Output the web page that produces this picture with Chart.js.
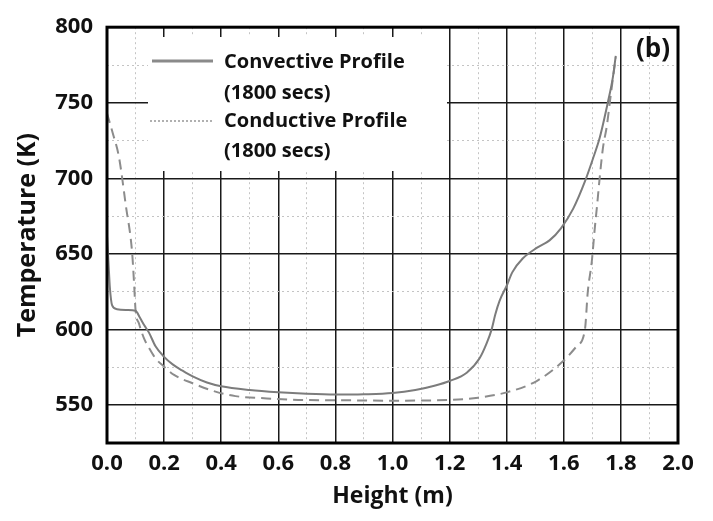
<!DOCTYPE html>
<html>
<head>
<meta charset="utf-8">
<script src="https://cdn.jsdelivr.net/npm/chart.js@4"></script>
<style>
  html, body { margin: 0; padding: 0; background: #fff; }
  #wrap { width: 713px; height: 521px; }
</style>
</head>
<body>
<div id="wrap"><canvas id="profile"></canvas></div>
<script>
// DATA
const convHeight = [0, 0.005, 0.01, 0.018, 0.035, 0.07, 0.1, 0.115, 0.13, 0.147, 0.17, 0.2, 0.23, 0.263, 0.3, 0.35, 0.4, 0.5, 0.6, 0.7, 0.8, 0.9, 1.0, 1.08, 1.15, 1.2, 1.26, 1.305, 1.33, 1.347, 1.36, 1.375, 1.4, 1.42, 1.456, 1.505, 1.55, 1.59, 1.633, 1.674, 1.702, 1.726, 1.754, 1.772, 1.782];
const convTemp = [662, 645, 628, 616, 613.5, 613, 612.5, 608, 603, 598, 589, 582, 577, 573, 569, 565, 562.5, 560, 558.5, 557.5, 557, 557.2, 558, 560, 563, 566, 571.5, 581, 591, 600, 610, 619, 629, 638, 647, 654, 659, 667, 680, 698, 713, 727, 750, 767, 781];

const condHeight = [0, 0.02, 0.042, 0.066, 0.088, 0.095, 0.1, 0.112, 0.13, 0.147, 0.17, 0.2, 0.235, 0.3, 0.38, 0.45, 0.56, 0.67, 0.85, 1.0, 1.2, 1.3, 1.4, 1.505, 1.597, 1.645, 1.674, 1.684, 1.698, 1.709, 1.716, 1.726, 1.737, 1.751, 1.761, 1.772, 1.782];
const condTemp = [743, 730, 714, 682, 651, 630, 613, 604, 594, 588, 581, 575.5, 570, 564.5, 559, 556, 554.5, 553.5, 553.2, 553, 553.5, 555, 558.5, 566, 579, 589, 600, 625, 645, 668, 681, 701, 720, 735, 750, 766, 780];

const legendLabels = [["Convective Profile", "(1800 secs)"], ["Conductive Profile", "(1800 secs)"]];
const panelLabel = "(b)";

const toPoints = (xs, ys) => xs.map((x, i) => ({ x: x, y: ys[i] }));

const FONT = "'Open Sans', 'DejaVu Sans', sans-serif";
const majorColor = "#1a1a1a";
const minorColor = "#c4c4c4";

// legend box, frame and panel label
const decorPlugin = {
  id: "decor",
  beforeDatasetsDraw(chart) {
    const ctx = chart.ctx;
    ctx.save();
    ctx.fillStyle = "#fff";
    ctx.fillRect(148, 37, 299, 134);

    ctx.lineWidth = 3;
    ctx.strokeStyle = "#8a8a8a";
    ctx.beginPath();
    ctx.moveTo(152, 61);
    ctx.lineTo(213, 61);
    ctx.stroke();

    ctx.lineWidth = 2;
    ctx.strokeStyle = "#b0b0b0";
    ctx.setLineDash([2, 2]);
    ctx.beginPath();
    ctx.moveTo(150, 121);
    ctx.lineTo(212, 121);
    ctx.stroke();
    ctx.setLineDash([]);

    ctx.fillStyle = "#111";
    ctx.font = "bold 20px " + FONT;
    ctx.textBaseline = "middle";
    ctx.textAlign = "left";
    ctx.fillText(legendLabels[0][0], 224, 62);
    ctx.fillText(legendLabels[0][1], 224, 93);
    ctx.fillText(legendLabels[1][0], 224, 121);
    ctx.fillText(legendLabels[1][1], 224, 151);
    ctx.restore();
  },
  afterDatasetsDraw(chart) {
    const ctx = chart.ctx;
    const a = chart.chartArea;
    ctx.save();
    ctx.strokeStyle = "#000";
    ctx.lineWidth = 3;
    ctx.strokeRect(a.left, a.top, a.right - a.left, a.bottom - a.top);

    ctx.fillStyle = "#111";
    ctx.font = "bold 26px " + FONT;
    ctx.textAlign = "right";
    ctx.textBaseline = "middle";
    ctx.fillText(panelLabel, a.right - 8, a.top + 22);
    ctx.restore();
  },
};

const isMajorX = (v) => Math.round(v * 10) % 2 === 0;
const isMajorY = (v) => Math.round(v) % 50 === 0;

const profileChart = new Chart(document.getElementById("profile").getContext("2d"), {
  type: "line",
  data: {
    datasets: [
      {
        label: "Convective Profile (1800 secs)",
        data: toPoints(convHeight, convTemp),
        borderColor: "#7c7c7c",
        borderWidth: 2,
        pointRadius: 0,
        cubicInterpolationMode: "monotone",
        fill: false,
      },
      {
        label: "Conductive Profile (1800 secs)",
        data: toPoints(condHeight, condTemp),
        borderColor: "#8c8c8c",
        borderWidth: 2,
        borderDash: [10, 6],
        pointRadius: 0,
        cubicInterpolationMode: "monotone",
        fill: false,
      },
    ],
  },
  options: {
    responsive: true,
    maintainAspectRatio: false,
    animation: false,
    layout: { padding: { top: 17, right: 35, left: 0, bottom: 0 } },
    plugins: {
      legend: { display: false },
      tooltip: { enabled: false },
    },
    scales: {
      x: {
        type: "linear",
        min: 0,
        max: 2,
        afterFit(scale) { scale.height = 78; },
        ticks: {
          stepSize: 0.1,
          autoSkip: false,
          maxRotation: 0,
          padding: 8,
          color: "#111",
          font: { family: FONT, size: 22, weight: "bold" },
          callback: (v) => (isMajorX(v) ? v.toFixed(1) : ""),
        },
        grid: {
          drawTicks: false,
          color: (c) => (isMajorX(c.tick.value) ? majorColor : minorColor),
          lineWidth: (c) => (isMajorX(c.tick.value) ? 1.5 : 1),
        },
        border: {
          display: false,
          dash: (c) => (c.tick && !isMajorX(c.tick.value) ? [2, 3] : []),
        },
        title: {
          display: true,
          text: "Height (m)",
          color: "#111",
          font: { family: FONT, size: 23, weight: "bold" },
          padding: { top: 0, bottom: 11 },
        },
      },
      y: {
        min: 525,
        max: 800,
        afterFit(scale) { scale.width = 107; },
        ticks: {
          stepSize: 25,
          autoSkip: false,
          padding: 14,
          color: "#111",
          font: { family: FONT, size: 22, weight: "bold" },
          callback: (v) => (isMajorY(v) && v > 525 ? String(v) : ""),
        },
        grid: {
          drawTicks: false,
          color: (c) => (isMajorY(c.tick.value) ? majorColor : minorColor),
          lineWidth: (c) => (isMajorY(c.tick.value) ? 1.5 : 1),
        },
        border: {
          display: false,
          dash: (c) => (c.tick && !isMajorY(c.tick.value) ? [2, 3] : []),
        },
        title: {
          display: true,
          text: "Temperature (K)",
          color: "#111",
          font: { family: FONT, size: 25, weight: "bold" },
          padding: { top: 13, bottom: 0 },
        },
      },
    },
  },
  plugins: [decorPlugin],
});
</script>
</body>
</html>
